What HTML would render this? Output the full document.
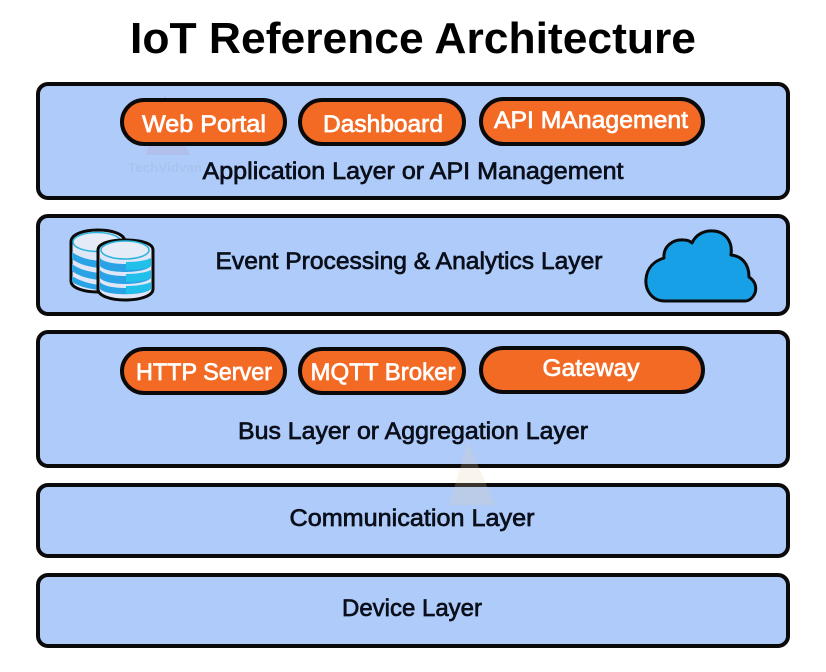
<!DOCTYPE html>
<html><head><meta charset="utf-8"><style>
html,body{margin:0;padding:0;background:#fff;width:826px;height:672px;overflow:hidden}
svg{display:block}
text{font-family:"Liberation Sans",sans-serif;text-anchor:middle}
.l{font-size:24px;fill:#0a0f1a;stroke:#0a0f1a;stroke-width:.7px}
.p{font-size:24px;fill:#fff;stroke:#fff;stroke-width:.7px}
.b{fill:#aecbfa;stroke:#0a0a0a;stroke-width:4}
.o{fill:#f26a24;stroke:#0a0a0a;stroke-width:4}
</style></head><body>
<svg width="826" height="672" viewBox="0 0 826 672" xmlns="http://www.w3.org/2000/svg">
<rect width="826" height="672" fill="#fff"/>
<text x="413" y="53" font-size="44" font-weight="bold" fill="#000" textLength="566" lengthAdjust="spacingAndGlyphs">IoT Reference Architecture</text>

<rect class="b" x="38" y="84" width="750" height="114" rx="10"/>
<rect class="b" x="38" y="216" width="750" height="98" rx="10"/>
<rect class="b" x="38" y="332" width="750" height="134" rx="10"/>
<rect class="b" x="38" y="485" width="750" height="71" rx="10"/>
<rect class="b" x="38" y="575" width="750" height="71" rx="10"/>

<!-- watermarks -->
<path d="M165 94 L146 155 L190 155 Z" fill="#b8a8c8" opacity=".3"/>
<text x="165" y="172" font-size="13" font-weight="bold" fill="#a9c3ee" textLength="74" lengthAdjust="spacingAndGlyphs">TechVidvan</text>
<path d="M468 442 L449 505 L495 505 Z" fill="#e8d0a8" opacity=".22"/>

<rect class="o" x="122" y="100" width="163" height="44" rx="22"/>
<rect class="o" x="300" y="100" width="164" height="44" rx="22"/>
<rect class="o" x="481" y="99" width="222" height="45" rx="22.5"/>
<rect class="o" x="122" y="349" width="163" height="44" rx="22"/>
<rect class="o" x="300" y="349" width="164" height="44" rx="22"/>
<rect class="o" x="481" y="348" width="222" height="44" rx="22"/>

<text class="p" x="204" y="132" textLength="124" lengthAdjust="spacingAndGlyphs">Web Portal</text>
<text class="p" x="383" y="132" textLength="120" lengthAdjust="spacingAndGlyphs">Dashboard</text>
<text class="p" x="591" y="128" textLength="194" lengthAdjust="spacingAndGlyphs">API MAnagement</text>
<text class="p" x="204" y="380" textLength="136" lengthAdjust="spacingAndGlyphs">HTTP Server</text>
<text class="p" x="383" y="380" textLength="145" lengthAdjust="spacingAndGlyphs">MQTT Broker</text>
<text class="p" x="591" y="376" textLength="97" lengthAdjust="spacingAndGlyphs">Gateway</text>

<text class="l" x="413" y="179" textLength="421" lengthAdjust="spacingAndGlyphs">Application Layer or API Management</text>
<text class="l" x="409" y="269" textLength="387" lengthAdjust="spacingAndGlyphs">Event Processing &amp; Analytics Layer</text>
<text class="l" x="413" y="439" textLength="350" lengthAdjust="spacingAndGlyphs">Bus Layer or Aggregation Layer</text>
<text class="l" x="412" y="526" textLength="245" lengthAdjust="spacingAndGlyphs">Communication Layer</text>
<text class="l" x="412" y="616" textLength="140" lengthAdjust="spacingAndGlyphs">Device Layer</text>

<!-- database icon -->
<g>
<path d="M71 242 C71 234 84 230 98 230 C112 230 125 234 125 242 L125 284 C125 290 112 292 98 292 C84 292 71 288 71 281 Z" fill="#dfe6f7" stroke="#0a0a0a" stroke-width="3"/>
<path d="M72 252 C80 258 90 260 100 261 L100 268 C90 267 80 265 72 259 Z M72 264 C80 270 90 272 100 273 L100 280 C90 279 80 277 72 271 Z M72 276 C80 281 90 284 100 285 L100 290 C90 289 80 287 72 282 Z" fill="#2aa3e6"/>
<ellipse cx="97" cy="242" rx="24" ry="9.5" fill="#e6ebf8" stroke="#2cb5dc" stroke-width="1.5"/>
<path d="M98 250 C98 243 111 240 125 240 C140 240 153 243 153 250 L153 289 C153 296 140 300 125 300 C111 300 98 296 98 289 Z" fill="#dfe6f7" stroke="#0a0a0a" stroke-width="3"/>
<path d="M100 258 C106 266 144 266 151 258 L151 266 C144 274 106 274 100 266 Z M100 270 C106 278 144 278 151 270 L151 278 C144 286 106 286 100 278 Z M100 282 C106 290 144 290 151 282 L151 289 C144 296 106 296 100 289 Z" fill="#2aa3e6"/>
<path d="M126 262 C135 262 145 261 151 258 L151 266 C145 269 135 270 126 270 Z M126 274 C135 274 145 273 151 270 L151 278 C145 281 135 282 126 282 Z M126 286 C135 286 145 285 151 282 L151 289 C145 292 135 294 126 294 Z" fill="#20c0ea"/>
<ellipse cx="125" cy="250" rx="24" ry="9" fill="#e6ebf8" stroke="#2cb5dc" stroke-width="1.5"/>
</g>

<!-- cloud icon -->
<path d="M665 301 C651 301 645 289 646 279 C647 268 654 261 664 258 C663 247 672 239 684 240 C688 240 690 241 692 243 C696 234 705 230 714 231 C725 232 733 241 731 255 C741 256 749 263 749 277 C755 281 757 287 755 293 C753 298 749 301 745 301 Z" fill="#17a0e6" stroke="#0a0a0a" stroke-width="3" stroke-linejoin="round"/>
</svg>
</body></html>
